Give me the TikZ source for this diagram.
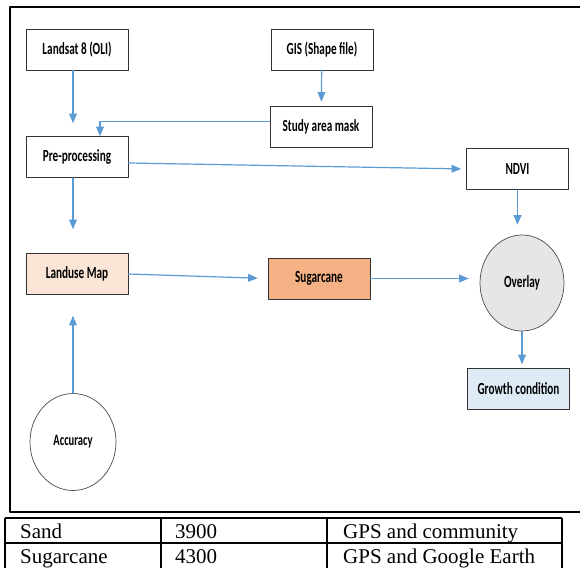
\documentclass[tikz,border=0pt]{standalone}
\usepackage{fontspec}
\usepackage{tikz}
\usetikzlibrary{arrows}
\usetikzlibrary{shapes.geometric}
\setmainfont{Liberation Serif}
\newfontfamily\labelfont[FakeStretch=0.66]{Carlito}
\definecolor{flowblue}{HTML}{5B9BD5}
\definecolor{landusefill}{HTML}{FBE5D6}
\definecolor{canefill}{HTML}{F4B183}
\definecolor{overlayfill}{HTML}{E6E6E6}
\definecolor{growthfill}{HTML}{DEEBF7}

\begin{document}
\begin{tikzpicture}[line cap=round,line join=round,>=triangle 45,x=1pt,y=-1pt,
    box/.style={draw=black!80,line width=0.8pt,minimum width=102pt,minimum height=41pt,inner sep=0pt,
      font={\labelfont\bfseries\fontsize{17}{20}\selectfont}},
    disc/.style={ellipse,draw=black!70,line width=0.7pt,inner sep=0pt,
      font={\labelfont\bfseries\fontsize{17}{20}\selectfont}},
    flow/.style={->,color=flowblue,line width=1.2pt},
    cell/.style={anchor=base west,inner sep=0pt,font=\fontsize{21}{24}\selectfont}]
      \useasboundingbox (0,0) rectangle (580,567);
      \fill[white] (0,0) rectangle (580,567);
      % frame round the flow chart
      \draw[line width=2.4pt,line cap=butt] (581,7) -- (10,7) -- (10,512) -- (581,512);
      % boxes
      \node[box] (landsat) at (77,49.5) {Landsat 8 (OLI)};
      \node[box] (gis) at (322,49.5) {GIS (Shape file)};
      \node[box] (mask) at (321,126.5) {Study area mask};
      \node[box] (pre) at (77,157) {Pre-processing};
      \node[box] (ndvi) at (517.5,169) {NDVI};
      \node[box,fill=landusefill] (landuse) at (77,274) {Landuse Map};
      \node[box,fill=canefill] (cane) at (319,278.5) {Sugarcane};
      \node[disc,fill=overlayfill,minimum width=84pt,minimum height=96pt] (overlay) at (522,283) {Overlay};
      \node[box,fill=growthfill] (growth) at (518.5,389) {Growth condition};
      \node[disc,minimum width=86pt,minimum height=97pt,
        font={\labelfont\bfseries\fontsize{16}{19}\selectfont}] (accuracy) at (73,442) {Accuracy};
      % connectors
      \draw[flow,shorten >=13pt] ([xshift=-4pt]landsat.south) -- ([xshift=-4pt]pre.north);
      \draw[flow,shorten >=4pt] (gis) -- (mask);
      \draw[flow] ([yshift=5pt]mask.west) -| ([xshift=23pt]pre.north);
      \draw[flow,shorten >=5pt] ([yshift=-6pt]pre.east) -- (ndvi.west);
      \draw[flow,shorten >=24pt] ([xshift=-4pt]pre.south) -- ([xshift=-4pt]landuse.north);
      \draw[flow,shorten >=10pt] (landuse.east) -- (cane.west);
      \draw[flow,shorten >=11pt] (cane.east) -- (cane.east -| overlay.west);
      \draw[flow,shorten >=10pt] (ndvi.south) -- (ndvi.south |- overlay.north);
      \draw[flow,shorten >=4pt] (overlay.south) -- (overlay.south |- growth.north);
      \draw[flow,shorten >=21pt] (accuracy.north) -- (accuracy.north |- landuse.south);
      % table below
      \draw[line width=1.3pt,line cap=butt] (5,518) -- (562,518);
      \draw[line width=1.3pt,line cap=butt] (5,543) -- (562,543);
      \foreach \x in {5,161,327,562}
      \draw[line width=1.3pt,line cap=butt] (\x,518) -- (\x,568);
      \foreach \a/\b/\c/\y/\n in {Sand/3900/GPS and community/538/1,Sugarcane/4300/GPS and Google Earth/563/2}
      {
      \node[cell] (class\n) at (20,\y) {\a};
      \node[cell] (area\n) at (175,\y) {\b};
      \node[cell] (source\n) at (343,\y) {\c};
      }
    \end{tikzpicture}
\end{document}
